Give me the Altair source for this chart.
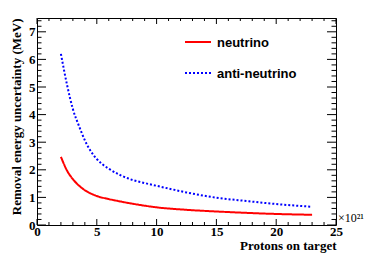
import altair as alt
import pandas as pd

# ---- data ----
series = ["neutrino", "anti-neutrino"]
colors = ["#ff0000", "#0000ff"]

x_nu = [2, 2.5, 3, 3.5, 4, 4.5, 5, 6, 7, 8, 9, 10, 12.5, 15, 17.5, 20, 23]
y_nu = [2.47, 1.98, 1.66, 1.43, 1.26, 1.14, 1.05, 0.94, 0.85, 0.77, 0.70, 0.64,
        0.55, 0.49, 0.44, 0.40, 0.37]

x_anu = [2, 2.5, 3, 3.5, 4, 4.5, 5, 5.5, 6, 7, 8, 9, 10, 12.5, 15, 17.5, 20, 23]
y_anu = [6.2, 5.1, 4.2, 3.6, 3.07, 2.67, 2.39, 2.19, 2.04, 1.8, 1.63, 1.52, 1.42,
         1.18, 0.99, 0.87, 0.76, 0.66]

x_major = [0, 5, 10, 15, 20, 25]
x_minor = [v for v in range(0, 26) if v % 5 != 0]
y_major = [0, 1, 2, 3, 4, 5, 6, 7]
y_minor = [round(i * 0.2, 1) for i in range(0, 38) if i % 5 != 0]

x_title = "Protons on target"
y_title = "Removal energy uncertainty (MeV)"
exponent_label = "×10²¹"

# ---- layout ----
W, H = 299, 207
XMAJ, XMIN = 6, 3
YMAJ, YMIN = 9, 4.5

df = pd.concat([
    pd.DataFrame({"x": x_nu, "y": y_nu, "s": series[0]}),
    pd.DataFrame({"x": x_anu, "y": y_anu, "s": series[1]}),
])

xs = alt.Scale(domain=[0, 25], nice=False, zero=False)
ys = alt.Scale(domain=[0, 7.5], nice=False, zero=False)

serif = "Liberation Serif"
sans = "Liberation Sans"

x_axis = alt.Axis(
    values=x_major, ticks=False, domain=False, grid=False,
    labelFont=serif, labelFontWeight="bold", labelFontSize=13,
    labelPadding=0, labelFlush=False, labelOverlap=False,
    title=x_title, titleFont=serif, titleFontWeight="bold", titleFontSize=13,
    titleAlign="right", titleBaseline="alphabetic", titleX=W, titleY=24,
)
y_axis = alt.Axis(
    values=y_major, ticks=False, domain=False, grid=False,
    labelFont=serif, labelFontWeight="bold", labelFontSize=13,
    labelPadding=2, labelFlush=False, labelOverlap=False,
    title=y_title, titleFont=serif, titleFontWeight="bold", titleFontSize=13,
    titleAngle=270, titleAlign="right", titleBaseline="alphabetic",
    titleX=-17, titleY=0,
)

lines = alt.Chart(df).mark_line(strokeWidth=2, interpolate="monotone").encode(
    x=alt.X("x:Q", scale=xs, axis=x_axis),
    y=alt.Y("y:Q", scale=ys, axis=y_axis),
    color=alt.Color("s:N", scale=alt.Scale(domain=series, range=colors), legend=None),
    strokeDash=alt.StrokeDash("s:N", scale=alt.Scale(domain=series, range=[[1, 0], [2, 2]]), legend=None),
)


def xticks(vals, length, top):
    d = pd.DataFrame({"x": vals})
    if top:
        yy, yy2 = 0, length
    else:
        yy, yy2 = H, H - length
    return alt.Chart(d).mark_rule(color="black", strokeWidth=1).encode(
        x=alt.X("x:Q", scale=xs, axis=x_axis), y=alt.value(yy), y2=alt.value(yy2))


def yticks(vals, length, right):
    d = pd.DataFrame({"y": vals})
    if right:
        xx, xx2 = W, W - length
    else:
        xx, xx2 = 0, length
    return alt.Chart(d).mark_rule(color="black", strokeWidth=1).encode(
        y=alt.Y("y:Q", scale=ys, axis=y_axis), x=alt.value(xx), x2=alt.value(xx2))


ticks = [
    xticks(x_major, XMAJ, False), xticks(x_minor, XMIN, False),
    xticks(x_major, XMAJ, True), xticks(x_minor, XMIN, True),
    yticks(y_major, YMAJ, False), yticks(y_minor, YMIN, False),
    yticks(y_major, YMAJ, True), yticks(y_minor, YMIN, True),
]

# legend (manual, ROOT style)
leg_layers = []
leg_y = [24, 55]
for name, col, dash, yy in zip(series, colors, [[1, 0], [2, 2]], leg_y):
    d = pd.DataFrame({"s": [name]})
    leg_layers.append(
        alt.Chart(d).mark_rule(color=col, strokeWidth=2, strokeDash=dash).encode(
            x=alt.value(148), x2=alt.value(174), y=alt.value(yy)))
    leg_layers.append(
        alt.Chart(d).mark_text(align="left", baseline="middle", font=sans,
                               fontWeight="bold", fontSize=13, color="black").encode(
            x=alt.value(180), y=alt.value(yy + 0.5), text="s:N"))

expo = alt.Chart(pd.DataFrame({"t": [exponent_label]})).mark_text(
    align="left", baseline="alphabetic", font=serif, fontSize=12, color="black").encode(
    x=alt.value(W + 2), y=alt.value(H - 3), text="t:N")

chart = alt.layer(lines, *ticks, *leg_layers, expo).properties(
    width=W, height=H,
    autosize=alt.AutoSizeParams(type="none"),
    padding={"left": 29, "top": 10, "right": 30, "bottom": 28},
    background="white",
).configure_view(stroke="black", strokeWidth=1)

chart.save("out.html", embed_options={"renderer": "svg", "actions": False})
